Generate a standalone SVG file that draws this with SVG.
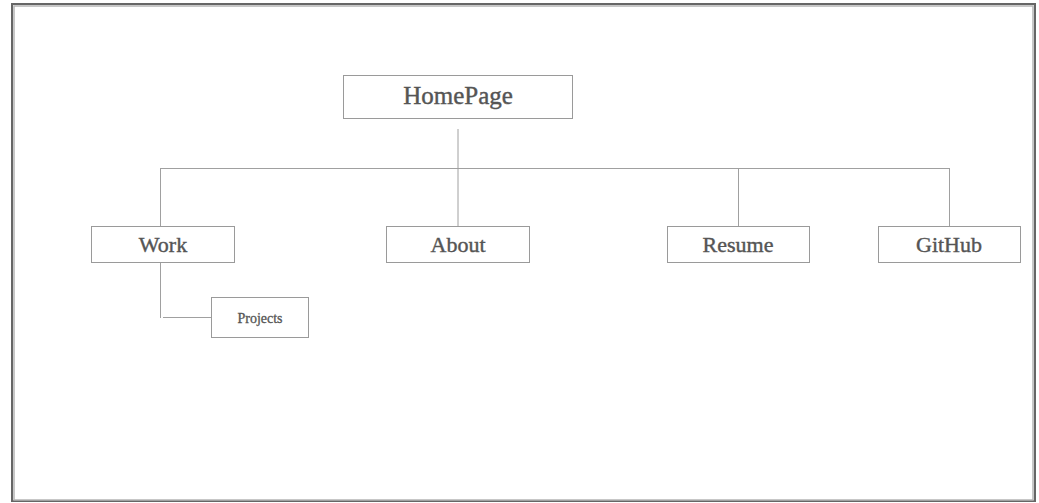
<svg xmlns="http://www.w3.org/2000/svg" width="1039" height="503" viewBox="0 0 1039 503">
<style>
.box{fill:#fff;stroke:#9a9a9a;stroke-width:1}
.lbl{font-family:"Liberation Serif","Times New Roman",serif;fill:#555;stroke:#555;stroke-width:0.4;text-anchor:middle}
.big{font-size:25px}
.mid{font-size:22px}
.sm{font-size:14px;stroke-width:0.3}
.con{stroke:#a0a0a0;stroke-width:1;fill:none}
</style>
<rect width="1039" height="503" fill="#fff"/>
<g id="frame">
<rect x="12" y="4" width="1023" height="497" fill="none" stroke="#666" stroke-width="2"/>
<rect x="14" y="6" width="1019" height="494" fill="none" stroke="#b5b5b5" stroke-width="1.5"/>
</g>
<g id="connectors">
<line class="con" x1="458" y1="129" x2="458" y2="226"/>
<line class="con" x1="160" y1="168.5" x2="949" y2="168.5"/>
<line class="con" x1="160.5" y1="168" x2="160.5" y2="226"/>
<line class="con" x1="738.5" y1="168" x2="738.5" y2="226"/>
<line class="con" x1="949.5" y1="168" x2="949.5" y2="226"/>
<line class="con" x1="160.5" y1="262" x2="160.5" y2="318"/>
<line class="con" x1="163" y1="317.5" x2="212" y2="317.5"/>
</g>
<g id="homepage">
<rect class="box" x="343.5" y="75.5" width="229" height="43"/>
<text class="lbl big" x="458" y="103.5">HomePage</text>
</g>
<g id="work">
<rect class="box" x="91.5" y="226.5" width="143" height="36"/>
<text class="lbl mid" x="163" y="252">Work</text>
</g>
<g id="about">
<rect class="box" x="386.5" y="226.5" width="143" height="36"/>
<text class="lbl mid" x="458" y="252">About</text>
</g>
<g id="resume">
<rect class="box" x="667.5" y="226.5" width="142" height="36"/>
<text class="lbl mid" x="738" y="252">Resume</text>
</g>
<g id="github">
<rect class="box" x="878.5" y="226.5" width="142" height="36"/>
<text class="lbl mid" x="949" y="252">GitHub</text>
</g>
<g id="projects">
<rect class="box" x="211.5" y="297.5" width="97" height="40"/>
<text class="lbl sm" x="260" y="322.5">Projects</text>
</g>
</svg>
